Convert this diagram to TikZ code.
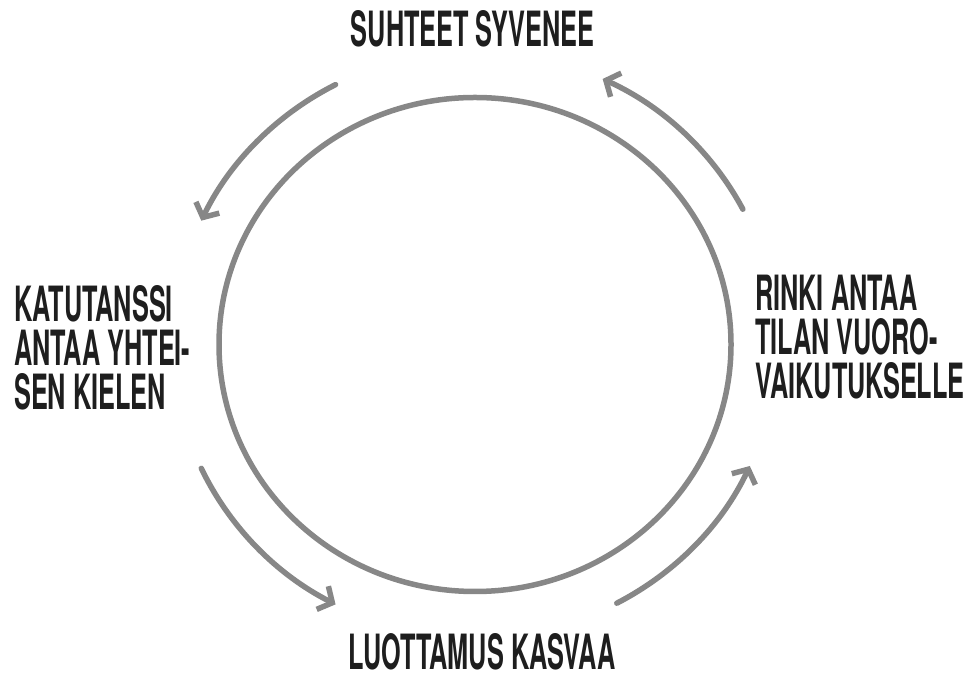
\documentclass[tikz,border=0pt]{standalone}
\usepackage{fontspec}
\newfontfamily\lblfamily[FakeStretch=0.52]{TeX Gyre Heros}
\usetikzlibrary{arrows.meta}
\definecolor{pencil}{RGB}{135,135,135}
\definecolor{ink}{RGB}{30,30,30}
\newcommand{\lblfont}{\lblfamily\bfseries\fontsize{48.6}{44}\selectfont}

\begin{document}
\begin{tikzpicture}[x=1pt, y=1pt,
    loopline/.style={pencil, line width=5.5pt, line cap=round},
    looparrow/.style={loopline, -{Straight Barb[length=11pt, width=26pt]}},
    lbl/.style={font=\lblfont, text=ink, inner sep=0pt}]
    \useasboundingbox (0,0) rectangle (968,679);

    % Circle
    \coordinate (c) at (475,334.5);
    \draw[loopline] (c) ellipse [x radius=256, y radius=247];

    % Arrows round the circle, all counter-clockwise
    \foreach \a in {27.5,117.5,205,298}
      \draw[looparrow] (c) ++(\a:302 and 293)
        arc[start angle=\a, delta angle=37.5, x radius=302, y radius=293];

    % Labels
    \node[lbl, anchor=base] (top) at (472.5,632) {SUHTEET SYVENEE};
    \node[lbl, anchor=base] (bottom) at (482,9) {LUOTTAMUS KASVAA};
    \node[lbl, anchor=north west, align=left] (left) at (14,394)
      {KATUTANSSI\\ANTAA YHTEI-\\SEN KIELEN};
    \node[lbl, anchor=north west, align=left] (right) at (755,404)
      {RINKI ANTAA\\TILAN VUORO-\\VAIKUTUKSELLE};
\end{tikzpicture}
\end{document}
